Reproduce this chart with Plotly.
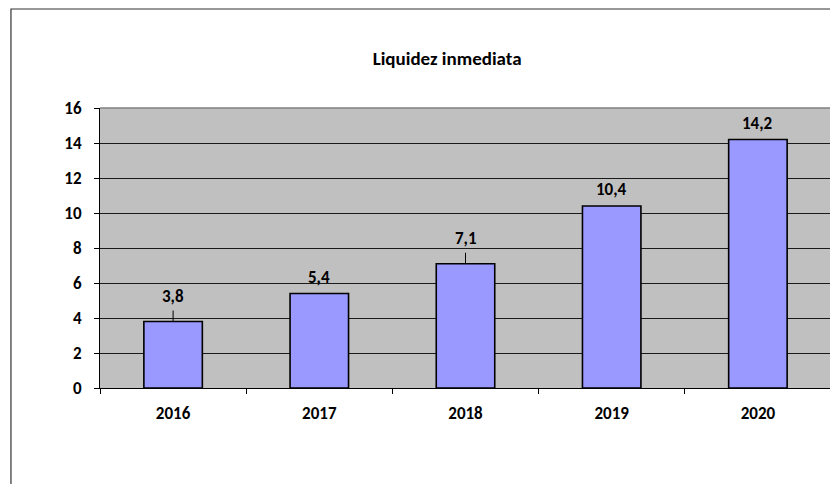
import plotly.graph_objects as go

years = ["2016", "2017", "2018", "2019", "2020"]
values = [3.8, 5.4, 7.1, 10.4, 14.2]
labels = ["3,8", "5,4", "7,1", "10,4", "14,2"]
leader = [True, False, True, False, False]
y_ticks = [0, 2, 4, 6, 8, 10, 12, 14, 16]

FONT = "Calibri, Carlito, Lato, sans-serif"

fig = go.Figure(go.Bar(
    x=years, y=values,
    marker=dict(color="#9999FF", line=dict(color="#000000", width=1.6)),
    hoverinfo="skip",
))

annotations = []
for i, (v, lab, ld) in enumerate(zip(values, labels, leader)):
    base = dict(x=i, y=v, xref="x", yref="y", text=lab,
                font=dict(family=FONT, size=17, color="#000000", weight="bold"))
    if ld:
        base.update(showarrow=True, arrowhead=0, arrowwidth=1, arrowcolor="#000000",
                    ax=0, ay=-25, startstandoff=2, standoff=0)
    else:
        base.update(showarrow=False, yanchor="bottom", yshift=4)
    annotations.append(base)

fig.update_layout(
    width=838, height=484,
    margin=dict(l=92, r=15, t=100, b=104),
    paper_bgcolor="#FFFFFF",
    plot_bgcolor="#C0C0C0",
    bargap=0.6,
    showlegend=False,
    title=dict(text="Liquidez inmediata", x=0.524, xref="container",
               xanchor="center", y=0.897, yanchor="middle",
               font=dict(family=FONT, size=19, color="#000000", weight="bold")),
    font=dict(family=FONT, color="#000000"),
    annotations=annotations,
    xaxis=dict(
        type="category", showgrid=False, showline=True, linecolor="#000000", linewidth=1,
        ticks="outside", ticklen=5, tickcolor="#000000", tickson="boundaries",
        tickfont=dict(family=FONT, size=17, color="#000000", weight="bold"),
        ticklabelstandoff=10, tickangle=0,
        zeroline=False, range=[-0.5, 4.5],
    ),
    yaxis=dict(
        range=[0, 16], tickvals=y_ticks, showgrid=True, gridcolor="#1a1a1a", gridwidth=1,
        showline=True, linecolor="#000000", linewidth=1,
        ticks="outside", ticklen=5, tickcolor="#000000",
        tickfont=dict(family=FONT, size=17, color="#000000", weight="bold"),
        ticklabelstandoff=9,
        zeroline=False,
    ),
    shapes=[
        dict(type="line", xref="paper", yref="paper", x0=0, x1=1, y0=1, y1=1,
             line=dict(color="#808080", width=1.5)),
        dict(type="line", xref="paper", yref="paper", x0=1, x1=1, y0=0, y1=1,
             line=dict(color="#808080", width=1.5)),
        dict(type="rect", xref="paper", yref="paper", x0=-0.1218, x1=1.5,
             y0=-0.6, y1=1.3536, line=dict(color="#333333", width=1.2),
             fillcolor="rgba(0,0,0,0)", layer="above"),
    ],
)

fig.write_html("out.html")
